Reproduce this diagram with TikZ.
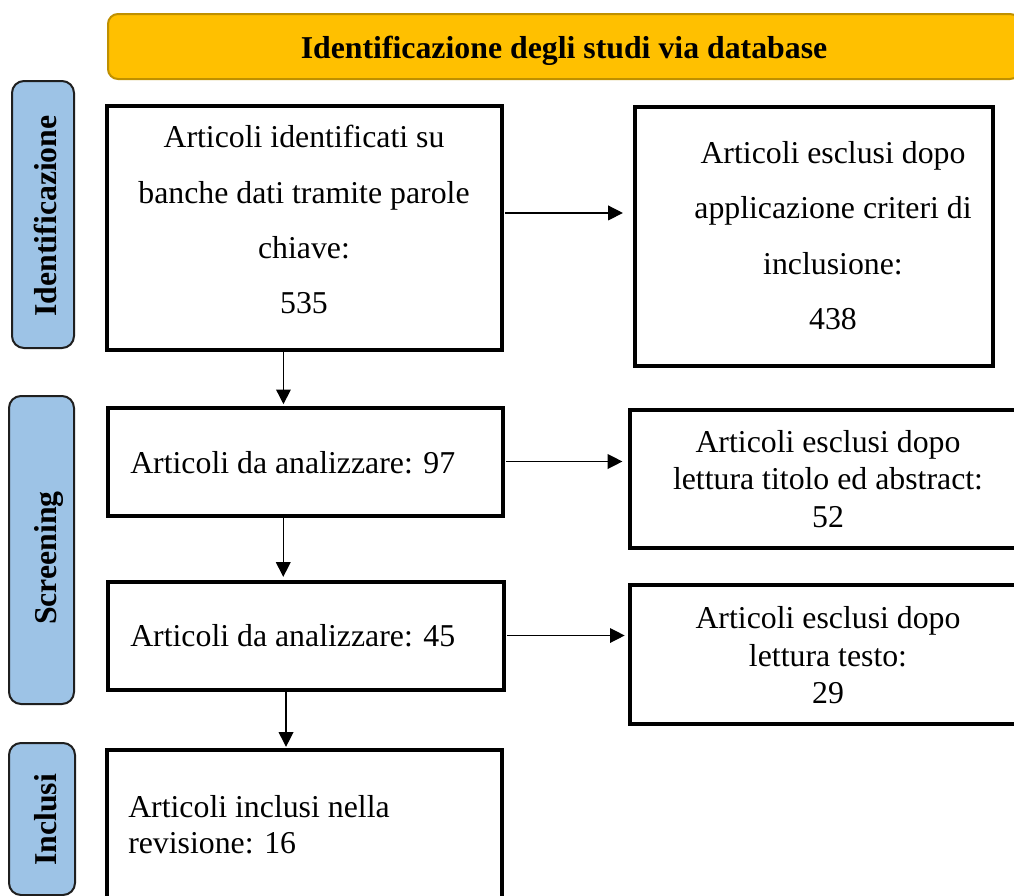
\documentclass[tikz,border=0pt]{standalone}
\usepackage{fontspec}
\setmainfont{Liberation Serif}
\usetikzlibrary{arrows.meta}
\definecolor{bannerfill}{HTML}{FFC000}
\definecolor{bannerdraw}{HTML}{BF9000}
\definecolor{sidefill}{HTML}{9DC3E6}
\definecolor{sidedraw}{HTML}{1F1F1F}
\tikzset{
  flowbox/.style={draw=black, line width=3pt, fill=white, inner sep=0pt},
  banner/.style={draw=bannerdraw, fill=bannerfill, line width=1.5pt, rounded corners=7.5pt, inner sep=0pt},
  sidebox/.style={draw=sidedraw, fill=sidefill, line width=1.5pt, rounded corners=9pt, inner sep=0pt},
  txt/.style={inner sep=0pt, font=\fontsize{23.85pt}{41.5pt}\selectfont},
  boldtxt/.style={inner sep=0pt, font=\fontsize{23.85pt}{28pt}\selectfont\bfseries},
  sidetxt/.style={boldtxt, rotate=90, anchor=base},
  arr/.style={line width=1pt, -{Triangle[length=11pt, width=11pt]}}
}
\begin{document}
\begin{tikzpicture}[x=0.75pt, y=-0.75pt]
\clip (0,0) rectangle (1014,896);
\fill[white] (0,0) rectangle (1014,896);

% banner
\node[banner, minimum width=684pt, minimum height=48.75pt] (ban) at (564,46.5) {};
\node[boldtxt, anchor=base] (title) at (564,58.3) {Identificazione degli studi via database};

% side labels
\node[sidebox, minimum width=46.5pt, minimum height=200.25pt] (s1) at (43,214.5) {};
\node[sidebox, minimum width=48.75pt, minimum height=231pt] (s2) at (41.5,550) {};
\node[sidebox, minimum width=49.5pt, minimum height=114pt] (s3) at (42,819) {};
\node[sidetxt] (l1) at (56,216) {Identificazione};
\node[sidetxt] (l2) at (56,558) {Screening};
\node[sidetxt] (l3) at (56,820) {Inclusi};

% boxes
\node[flowbox, minimum width=296.25pt, minimum height=183pt] (b1) at (304,227.5) {};
\node[flowbox, minimum width=268.5pt, minimum height=194.25pt] (b2) at (813.5,236) {};
\node[flowbox, minimum width=296.25pt, minimum height=81pt] (b3) at (305,461.5) {};
\node[flowbox, minimum width=297pt, minimum height=81pt] (b4) at (305.5,635.5) {};
\node[flowbox, minimum width=296.25pt, minimum height=128.25pt] (b5) at (304,835) {};
\node[flowbox, minimum width=300pt, minimum height=103.5pt] (b6) at (830,478.5) {};
\node[flowbox, minimum width=300pt, minimum height=104.25pt] (b7) at (830,654) {};

% texts
\node[txt, anchor=north, align=center] (t1) at (304,125.3)
  {Articoli identificati su\\banche dati tramite parole\\chiave:\\535};
\node[txt, anchor=north, align=center] (t2) at (833,141.3)
  {Articoli esclusi dopo\\applicazione criteri di\\inclusione:\\438};
\node[txt, anchor=base west] (t3) at (130,473) {Articoli da analizzare: 97};
\node[txt, anchor=base west] (t4) at (130,646.7) {Articoli da analizzare: 45};
\node[txt, anchor=north west, align=left, font=\fontsize{23.85pt}{27pt}\selectfont] (t5) at (128,795)
  {Articoli inclusi nella\\revisione: 16};
\node[txt, anchor=north, align=center, font=\fontsize{23.85pt}{28pt}\selectfont] (t6) at (828,430)
  {Articoli esclusi dopo\\lettura titolo ed abstract:\\52};
\node[txt, anchor=north, align=center, font=\fontsize{23.85pt}{28.1pt}\selectfont] (t7) at (828,606.6)
  {Articoli esclusi dopo\\lettura testo:\\29};

% connectors
\draw[arr, shorten <=1pt, shorten >=7.2pt] ([yshift=10.9pt]b1.east) -- ([yshift=10.9pt]b1.east -| b2.west);
\draw[arr, shorten <=1pt, shorten >=4.2pt] (b3.east) -- (b3.east -| b6.west);
\draw[arr, shorten <=1pt, shorten >=2.5pt] (b4.east) -- (b4.east -| b7.west);
\draw[arr, shorten >=1pt] ([xshift=-15.4pt]b1.south) -- ([xshift=-15.4pt]b1.south |- b3.north);
\draw[arr, shorten >=2pt] ([xshift=-16.3pt]b3.south) -- ([xshift=-16.3pt]b3.south |- b4.north);
\draw[arr, shorten >=0.5pt] ([xshift=-14.6pt]b4.south) -- ([xshift=-14.6pt]b4.south |- b5.north);
\end{tikzpicture}
\end{document}
